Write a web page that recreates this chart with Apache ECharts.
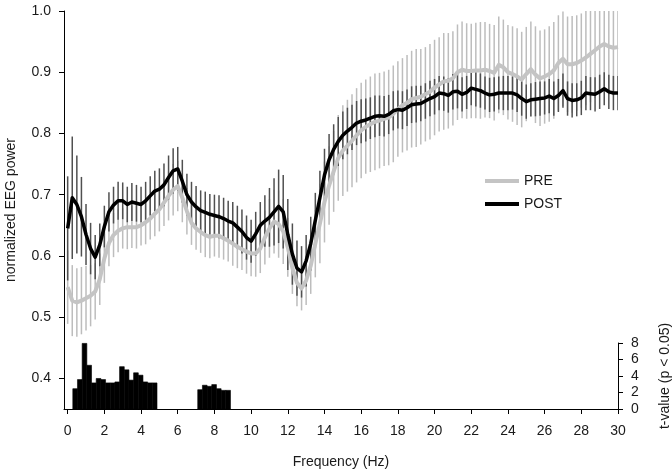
<!DOCTYPE html>
<html><head><meta charset="utf-8">
<script src="https://cdn.jsdelivr.net/npm/echarts@6/dist/echarts.min.js"></script>
<style>html,body{margin:0;padding:0;background:#fff}#c{width:672px;height:469px}</style>
</head><body><div id="c"></div>
<script>
// Frequency grid step (Hz) of the spectra
const FREQ_STEP = 0.25;

const preMean = [
0.549,0.527,0.524,0.527,0.531,0.535,0.542,0.562,0.596,0.621,
0.634,0.641,0.645,0.647,0.647,0.647,0.650,0.655,0.661,0.669,
0.676,0.687,0.698,0.708,0.714,0.695,0.673,0.654,0.645,0.639,
0.634,0.631,0.633,0.633,0.629,0.625,0.620,0.615,0.611,0.607,
0.604,0.604,0.612,0.630,0.645,0.656,0.652,0.640,0.614,0.580,
0.556,0.547,0.560,0.584,0.620,0.653,0.688,0.715,0.738,0.760,
0.772,0.780,0.788,0.797,0.805,0.811,0.815,0.819,0.821,0.824,
0.826,0.832,0.840,0.846,0.850,0.856,0.858,0.860,0.864,0.868,
0.875,0.880,0.885,0.886,0.890,0.900,0.904,0.902,0.902,0.903,
0.903,0.904,0.902,0.899,0.912,0.908,0.900,0.897,0.893,0.888,
0.897,0.905,0.896,0.890,0.893,0.897,0.903,0.915,0.922,0.913,
0.913,0.915,0.919,0.924,0.930,0.936,0.942,0.946,0.942,0.940,
0.941];

const preSE = [
0.060,0.058,0.056,0.055,0.053,0.050,0.046,0.042,0.040,0.038,
0.036,0.035,0.033,0.036,0.034,0.035,0.033,0.036,0.034,0.037,
0.036,0.038,0.040,0.042,0.041,0.040,0.038,0.036,0.035,0.034,
0.036,0.035,0.034,0.036,0.035,0.034,0.036,0.035,0.034,0.036,
0.037,0.038,0.040,0.044,0.048,0.052,0.055,0.053,0.048,0.042,
0.038,0.036,0.040,0.046,0.055,0.065,0.066,0.064,0.066,0.070,
0.074,0.075,0.076,0.077,0.078,0.077,0.078,0.079,0.078,0.077,
0.078,0.079,0.078,0.077,0.078,0.079,0.080,0.078,0.077,0.078,
0.078,0.077,0.079,0.078,0.077,0.078,0.079,0.078,0.077,0.078,
0.079,0.078,0.077,0.078,0.079,0.078,0.077,0.078,0.079,0.078,
0.077,0.078,0.079,0.078,0.077,0.078,0.079,0.078,0.077,0.078,
0.079,0.078,0.077,0.078,0.079,0.078,0.077,0.078,0.079,0.078,
0.078];

const postMean = [
0.645,0.695,0.684,0.664,0.635,0.612,0.598,0.618,0.648,0.672,
0.683,0.690,0.690,0.684,0.688,0.686,0.684,0.690,0.698,0.706,
0.709,0.716,0.728,0.739,0.742,0.722,0.700,0.688,0.680,0.674,
0.671,0.668,0.666,0.664,0.661,0.657,0.654,0.647,0.640,0.630,
0.624,0.636,0.650,0.657,0.663,0.672,0.681,0.672,0.635,0.603,
0.580,0.574,0.592,0.620,0.658,0.695,0.732,0.757,0.774,0.787,
0.797,0.804,0.810,0.817,0.820,0.822,0.825,0.828,0.829,0.828,
0.831,0.837,0.839,0.838,0.842,0.847,0.848,0.849,0.853,0.857,
0.860,0.866,0.865,0.862,0.868,0.869,0.864,0.867,0.874,0.872,
0.870,0.866,0.863,0.864,0.866,0.866,0.866,0.866,0.863,0.857,
0.852,0.855,0.856,0.857,0.858,0.861,0.857,0.862,0.870,0.857,
0.854,0.855,0.858,0.866,0.865,0.864,0.868,0.873,0.868,0.866,
0.866];

const postSE = [
0.085,0.100,0.080,0.065,0.050,0.042,0.036,0.035,0.034,0.032,
0.030,0.031,0.030,0.029,0.031,0.030,0.029,0.031,0.032,0.033,
0.034,0.035,0.036,0.037,0.036,0.035,0.034,0.033,0.034,0.033,
0.034,0.033,0.034,0.035,0.034,0.033,0.034,0.035,0.036,0.036,
0.035,0.036,0.038,0.042,0.048,0.055,0.060,0.060,0.058,0.050,
0.045,0.042,0.042,0.044,0.045,0.044,0.043,0.042,0.041,0.040,
0.039,0.038,0.037,0.036,0.036,0.035,0.034,0.034,0.033,0.033,
0.032,0.032,0.031,0.031,0.030,0.030,0.030,0.029,0.029,0.029,
0.029,0.028,0.028,0.028,0.029,0.028,0.028,0.027,0.028,0.028,
0.028,0.027,0.028,0.028,0.027,0.028,0.028,0.027,0.028,0.028,
0.028,0.027,0.028,0.028,0.027,0.028,0.028,0.027,0.028,0.028,
0.028,0.027,0.028,0.028,0.027,0.028,0.028,0.027,0.028,0.028,
0.028];

// t-value bins: left edge (Hz) and value
const T_BIN = 0.255;
const tStart = [0.28,0.535,0.79,1.045,1.30,1.555,1.81,2.065,2.32,2.575,2.83,3.085,3.34,3.595,3.85,4.105,4.36,4.615,
                7.09,7.345,7.60,7.855,8.11,8.365,8.62];
const tValue = [2.46,3.57,7.95,5.30,3.16,3.70,3.57,3.16,3.16,3.28,5.13,4.75,3.50,4.39,4.10,3.28,3.16,3.16,
                2.34,2.88,2.75,2.96,2.46,2.26,2.26];

const xTicks = [0,2,4,6,8,10,12,14,16,18,20,22,24,26,28,30];
const yTicks = [0.4,0.5,0.6,0.7,0.8,0.9,1.0];
const tTicks = [0,2,4,6,8];

const freqs = preMean.map((_, i) => i * FREQ_STEP);

const FONT = 'Liberation Sans, Arial, sans-serif';
const TXT = '#1a1a1a';

function errSeries(name, mean, se, color) {
  return {
    type: 'custom', name: name, xAxisIndex: 0, yAxisIndex: 0, clip: true, silent: true,
    data: freqs.map((f, i) => [f, mean[i] - se[i], mean[i] + se[i]]),
    encode: { x: 0, y: [1, 2] },
    renderItem: function (params, api) {
      const lo = api.coord([api.value(0), api.value(1)]);
      const hi = api.coord([api.value(0), api.value(2)]);
      return { type: 'line', shape: { x1: lo[0], y1: lo[1], x2: hi[0], y2: hi[1] },
               style: { stroke: color, lineWidth: 1.5 } };
    }
  };
}

const chart = echarts.init(document.getElementById('c'), null, { renderer: 'canvas' });
chart.setOption({
  animation: false,
  backgroundColor: '#fff',
  textStyle: { fontFamily: FONT },
  grid: [
    { left: 64, right: 54, top: 11, bottom: 60, containLabel: false, outerBoundsMode: 'none' },
    { left: 64, right: 54, top: 343, bottom: 60, containLabel: false, outerBoundsMode: 'none' }
  ],
  legend: {
    orient: 'vertical', left: 480, top: 169, itemWidth: 34, itemHeight: 4, itemGap: 9,
    textStyle: { fontSize: 14, color: TXT, fontFamily: FONT },
    data: [
      { name: 'PRE', icon: 'rect', itemStyle: { color: '#c4c4c4' } },
      { name: 'POST', icon: 'rect', itemStyle: { color: '#000' } }
    ]
  },
  xAxis: [
    {
      type: 'value', gridIndex: 0, min: -0.2, max: 30,
      axisLine: { show: true, onZero: false, lineStyle: { color: '#000', width: 1 } },
      axisTick: { show: true, customValues: xTicks, length: 5, lineStyle: { color: '#000' } },
      axisLabel: { customValues: xTicks, margin: 15, fontSize: 14, color: TXT, fontFamily: FONT },
      splitLine: { show: false },
      name: 'Frequency (Hz)', nameLocation: 'middle', nameGap: 46,
      nameTextStyle: { fontSize: 14, color: TXT, fontFamily: FONT }
    },
    { type: 'value', gridIndex: 1, min: -0.2, max: 30, show: false }
  ],
  yAxis: [
    {
      type: 'value', gridIndex: 0, min: 0.35, max: 1.0,
      axisLine: { show: true, onZero: false, lineStyle: { color: '#000', width: 1 } },
      axisTick: { show: true, customValues: yTicks, length: 5, lineStyle: { color: '#000' } },
      axisLabel: { customValues: yTicks, margin: 13, fontSize: 14, color: TXT, fontFamily: FONT,
                   formatter: v => v.toFixed(1) },
      splitLine: { show: false },
      name: 'normalized EEG power', nameLocation: 'middle', nameGap: 46, nameRotate: 90,
      nameTextStyle: { fontSize: 14, color: TXT, fontFamily: FONT }
    },
    {
      type: 'value', gridIndex: 1, position: 'right', min: 0, max: 8, interval: 2,
      axisLine: { show: true, onZero: false, lineStyle: { color: '#000', width: 1 } },
      axisTick: { show: true, length: 5, lineStyle: { color: '#000' } },
      axisLabel: { margin: 13, fontSize: 14, color: TXT, fontFamily: FONT },
      splitLine: { show: false },
      name: 't-value (p < 0.05)', nameLocation: 'middle', nameGap: 40, nameRotate: 90,
      nameTextStyle: { fontSize: 14, color: TXT, fontFamily: FONT }
    }
  ],
  series: [
    errSeries('PRE SE', preMean, preSE, '#bdbdbd'),
    errSeries('POST SE', postMean, postSE, '#505050'),
    {
      name: 'PRE', type: 'line', xAxisIndex: 0, yAxisIndex: 0, showSymbol: false, silent: true,
      data: freqs.map((f, i) => [f, preMean[i]]),
      lineStyle: { color: '#c4c4c4', width: 4, join: 'round' }, itemStyle: { color: '#c4c4c4' }
    },
    {
      name: 'POST', type: 'line', xAxisIndex: 0, yAxisIndex: 0, showSymbol: false, silent: true,
      data: freqs.map((f, i) => [f, postMean[i]]),
      lineStyle: { color: '#000', width: 3.5, join: 'round' }, itemStyle: { color: '#000' }
    },
    {
      name: 't', type: 'custom', xAxisIndex: 1, yAxisIndex: 1, silent: true,
      data: tStart.map((f, i) => [f, tValue[i]]),
      encode: { x: 0, y: 1 },
      renderItem: function (params, api) {
        const a = api.coord([api.value(0), api.value(1)]);
        const b = api.coord([api.value(0) + T_BIN, 0]);
        return { type: 'rect', shape: { x: a[0], y: a[1], width: b[0] - a[0], height: b[1] - a[1] },
                 style: { fill: '#000', stroke: '#000', lineWidth: 0.6 } };
      }
    }
  ]
});
</script>
</body></html>
